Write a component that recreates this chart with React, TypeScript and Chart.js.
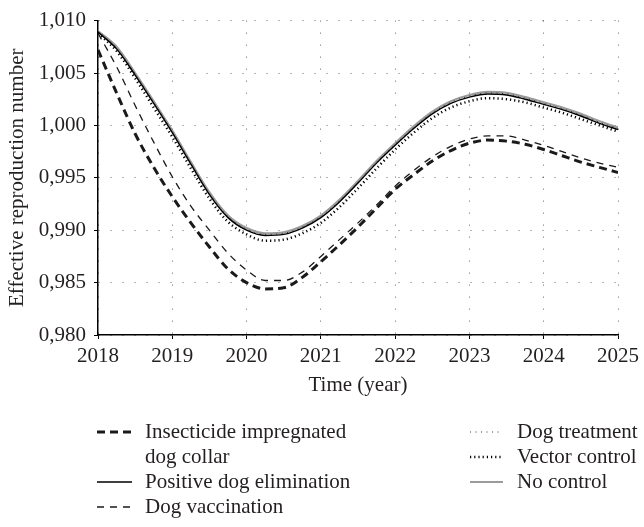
import React, { useEffect, useRef } from "react";
import { Chart, registerables } from "chart.js";

Chart.register(...registerables);

// ---------- data ----------
const years = [
  2018, 2018.25, 2018.5, 2018.75, 2019, 2019.25, 2019.5, 2019.75, 2020, 2020.25,
  2020.5, 2020.75, 2021, 2021.25, 2021.5, 2021.75, 2022, 2022.25, 2022.5, 2022.75,
  2023, 2023.25, 2023.5, 2023.75, 2024, 2024.25, 2024.5, 2024.75, 2025,
];

const insecticideCollar = [
  1.0072, 1.0031, 0.9992, 0.996, 0.9932, 0.9907, 0.9884, 0.9863, 0.985, 0.9844,
  0.9845, 0.9855, 0.987, 0.9886, 0.9903, 0.9921, 0.9939, 0.9953, 0.9966, 0.9976,
  0.9983, 0.9986, 0.9985, 0.9982, 0.9977, 0.9971, 0.9965, 0.996, 0.9955,
];

const positiveDogElimination = [
  1.0089, 1.0073, 1.0048, 1.0021, 0.9993, 0.9963, 0.9934, 0.9912, 0.99, 0.9895,
  0.9896, 0.9902, 0.9912, 0.9927, 0.9945, 0.9964, 0.9981, 0.9997, 1.0011, 1.0021,
  1.0027, 1.003, 1.0029, 1.0025, 1.002, 1.0015, 1.0009, 1.0002, 0.9996,
];

const dogVaccination = [
  1.0088, 1.0056, 1.0019, 0.9984, 0.9951, 0.9923, 0.99, 0.9878, 0.9862, 0.9852,
  0.9852, 0.986, 0.9875, 0.9891, 0.9907, 0.9924, 0.9942, 0.9957, 0.997, 0.998,
  0.9987, 0.999, 0.999, 0.9986, 0.9981, 0.9975, 0.9969, 0.9964, 0.996,
];

const dogTreatment = [
  1.009, 1.0074, 1.0049, 1.0022, 0.9994, 0.9964, 0.9935, 0.9913, 0.9901, 0.9896,
  0.9897, 0.9903, 0.9913, 0.9928, 0.9946, 0.9965, 0.9982, 0.9998, 1.0012, 1.0022,
  1.0028, 1.0031, 1.003, 1.0026, 1.0021, 1.0016, 1.001, 1.0003, 0.9997,
];

const vectorControl = [
  1.0088, 1.0071, 1.0045, 1.0017, 0.9989, 0.9959, 0.993, 0.9908, 0.9896, 0.989,
  0.9891, 0.9897, 0.9907, 0.9922, 0.994, 0.9959, 0.9977, 0.9993, 1.0007, 1.0017,
  1.0023, 1.0026, 1.0025, 1.0022, 1.0017, 1.0012, 1.0006, 1.0, 0.9994,
];

const noControl = [
  1.009, 1.0075, 1.005, 1.0023, 0.9995, 0.9965, 0.9936, 0.9914, 0.9902, 0.9897,
  0.9898, 0.9904, 0.9914, 0.9929, 0.9947, 0.9966, 0.9983, 0.9999, 1.0013, 1.0023,
  1.0029, 1.0032, 1.0031, 1.0027, 1.0022, 1.0017, 1.0011, 1.0004, 0.9998,
];

const seriesLabels = [
  "Insecticide impregnated dog collar",
  "Positive dog elimination",
  "Dog vaccination",
  "Dog treatment",
  "Vector control",
  "No control",
];

const xTitle = "Time (year)";
const yTitle = "Effective reproduction number";
const xMin = 2018;
const xMax = 2025;
const yMin = 0.98;
const yMax = 1.01;

const FONT = '"Liberation Serif", "Times New Roman", serif';
const TEXT = "#231f20";

export default function App() {
  const ref = useRef<HTMLCanvasElement>(null);

  useEffect(() => {
    document.body.style.margin = "0";
    const canvas = ref.current;
    if (!canvas) return;

    const mk = (ys: number[]) => years.map((x, i) => ({ x, y: ys[i] }));

    const datasets: any[] = [
      { label: seriesLabels[0], data: mk(insecticideCollar), borderColor: "#1a1a1a", borderWidth: 3, borderDash: [8, 5] },
      { label: seriesLabels[1], data: mk(positiveDogElimination), borderColor: "#000000", borderWidth: 1.4, borderDash: [] },
      { label: seriesLabels[2], data: mk(dogVaccination), borderColor: "#1a1a1a", borderWidth: 1.3, borderDash: [7, 6] },
      { label: seriesLabels[3], data: mk(dogTreatment), borderColor: "#333333", borderWidth: 1, borderDash: [1, 4.5] },
      { label: seriesLabels[4], data: mk(vectorControl), borderColor: "#000000", borderWidth: 2.5, borderDash: [1.2, 3] },
      { label: seriesLabels[5], data: mk(noControl), borderColor: "#9b9b9b", borderWidth: 2.2, borderDash: [] },
    ].map((d) => ({
      ...d,
      pointRadius: 0,
      fill: false,
      cubicInterpolationMode: "monotone",
    }));

    const legendItems = [
      { ds: 0, x1: 97, x2: 132, y: 432, tx: 145, lines: ["Insecticide impregnated", "dog collar"] },
      { ds: 1, x1: 97, x2: 132, y: 482, tx: 145, lines: [seriesLabels[1]] },
      { ds: 2, x1: 97, x2: 132, y: 507, tx: 145, lines: [seriesLabels[2]] },
      { ds: 3, x1: 470, x2: 503, y: 432, tx: 517, lines: [seriesLabels[3]] },
      { ds: 4, x1: 470, x2: 503, y: 457, tx: 517, lines: [seriesLabels[4]] },
      { ds: 5, x1: 470, x2: 503, y: 482, tx: 517, lines: [seriesLabels[5]] },
    ];

    const legendPlugin = {
      id: "customLegend",
      afterDraw(chart: any) {
        const ctx = chart.ctx;
        ctx.save();
        legendItems.forEach((it) => {
          const ds = chart.data.datasets[it.ds];
          ctx.save();
          ctx.strokeStyle = ds.borderColor;
          ctx.lineWidth = ds.borderWidth;
          ctx.setLineDash(ds.borderDash || []);
          ctx.beginPath();
          ctx.moveTo(it.x1, it.y);
          ctx.lineTo(it.x2, it.y);
          ctx.stroke();
          ctx.restore();
          ctx.font = `21px ${FONT}`;
          ctx.fillStyle = TEXT;
          ctx.textBaseline = "middle";
          ctx.textAlign = "left";
          it.lines.forEach((t, k) => ctx.fillText(t, it.tx, it.y + k * 25));
        });
        ctx.restore();
      },
    };

    const chart = new Chart(canvas, {
      type: "line",
      data: { datasets },
      options: {
        animation: false,
        responsive: false,
        layout: { padding: { top: 15, right: 22, bottom: 129, left: 0 } },
        plugins: { legend: { display: false }, tooltip: { enabled: false } },
        scales: {
          x: {
            type: "linear",
            min: xMin,
            max: xMax,
            afterFit: (s: any) => {
              s.height = 63;
            },
            ticks: {
              stepSize: 1,
              padding: 5,
              color: TEXT,
              font: { family: FONT, size: 21 },
              callback: (v: any) => String(v),
            },
            grid: {
              color: "rgba(0,0,0,0.6)",
              lineWidth: 1,
              tickLength: 4,
              tickColor: "#000",
              tickWidth: 1,
            },
            border: { display: true, color: "#000", width: 1.5, dash: [1, 11] },
            title: {
              display: true,
              text: xTitle,
              color: TEXT,
              font: { family: FONT, size: 21 },
              padding: { top: 0, bottom: 0 },
            },
          },
          y: {
            type: "linear",
            min: yMin,
            max: yMax,
            afterFit: (s: any) => {
              s.width = 98;
            },
            ticks: {
              stepSize: 0.005,
              padding: 8,
              color: TEXT,
              font: { family: FONT, size: 21 },
              callback: (v: any) => Number(v).toFixed(3).replace(".", ","),
            },
            grid: {
              color: "rgba(0,0,0,0.6)",
              lineWidth: 1,
              tickLength: 4,
              tickColor: "#000",
              tickWidth: 1,
            },
            border: { display: true, color: "#000", width: 1.5, dash: [1, 11] },
            title: {
              display: true,
              text: yTitle,
              color: TEXT,
              font: { family: FONT, size: 21 },
              padding: { top: 5, bottom: 0 },
            },
          },
        },
      },
      plugins: [legendPlugin],
    } as any);

    return () => chart.destroy();
  }, []);

  return (
    <div style={{ position: "absolute", left: 0, top: 0, width: 644, height: 527 }}>
      <canvas ref={ref} width={644} height={527} style={{ width: 644, height: 527, display: "block" }} />
    </div>
  );
}
